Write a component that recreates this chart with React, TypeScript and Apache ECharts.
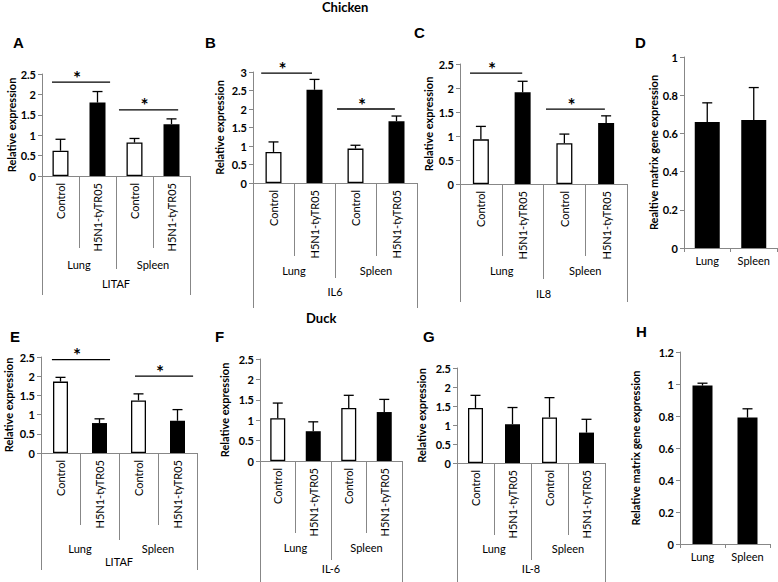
import React, { useEffect, useRef } from 'react';
import * as echarts from 'echarts';

const FONT = 'Lato, "Liberation Sans", sans-serif';
const GRAY = '#878787';

// categories
const treatments = ['Control', 'H5N1-tyTR05', 'Control', 'H5N1-tyTR05'];
const tissues = ['Lung', 'Spleen'];

// Chicken
const chickenLitafMean = [0.62, 1.8, 0.82, 1.27];
const chickenLitafErr = [0.28, 0.27, 0.1, 0.13];
const chickenIl6Mean = [0.84, 2.52, 0.93, 1.67];
const chickenIl6Err = [0.27, 0.28, 0.09, 0.14];
const chickenIl8Mean = [0.93, 1.91, 0.85, 1.27];
const chickenIl8Err = [0.27, 0.23, 0.19, 0.15];
const chickenMatrixMean = [0.66, 0.67];
const chickenMatrixErr = [0.1, 0.17];

// Duck
const duckLitafMean = [1.86, 0.78, 1.37, 0.84];
const duckLitafErr = [0.11, 0.11, 0.17, 0.29];
const duckIl6Mean = [1.05, 0.73, 1.3, 1.2];
const duckIl6Err = [0.37, 0.23, 0.31, 0.31];
const duckIl8Mean = [1.45, 1.02, 1.2, 0.8];
const duckIl8Err = [0.33, 0.44, 0.52, 0.35];
const duckMatrixMean = [0.99, 0.79];
const duckMatrixErr = [0.015, 0.055];

// significance brackets: [from category, to category, level]
const chickenLitafSig = [[-0.23, 1.34, 2.3], [1.58, 3.18, 1.62]];
const chickenIl6Sig = [[-0.3, 0.94, 2.97], [1.55, 2.96, 2.0]];
const chickenIl8Sig = [[-0.26, 0.99, 2.31], [1.56, 2.97, 1.56]];
const duckLitafSig = [[-0.22, 1.27, 2.43], [1.91, 3.4, 2.0]];

type Panel = {
  rect: number[];
  max: number;
  step: number;
  yName: string;
  nameGap: number;
  mean: number[];
  err: number[];
  bw: number;
  gene?: string;
  ticks?: number[];
  margins?: number[];
  sig?: number[][];
};

const panels: Panel[] = [
  { rect: [42, 74, 148, 102], max: 2.5, step: 0.5, yName: 'Relative expression', nameGap: 24, mean: chickenLitafMean, err: chickenLitafErr, bw: 16, gene: 'LITAF', ticks: [72, 93, 119], margins: [7, 83, 102], sig: chickenLitafSig },
  { rect: [253, 72, 164, 111], max: 3, step: 0.5, yName: 'Relative expression', nameGap: 28, mean: chickenIl6Mean, err: chickenIl6Err, bw: 16, gene: 'IL6', ticks: [73, 95, 125], margins: [7, 82, 103], sig: chickenIl6Sig },
  { rect: [460, 64, 167, 120], max: 2.5, step: 0.5, yName: 'Relative expression', nameGap: 26, mean: chickenIl8Mean, err: chickenIl8Err, bw: 16, gene: 'IL8', ticks: [72, 95, 118], margins: [7, 81, 104], sig: chickenIl8Sig },
  { rect: [684, 57, 93, 191], max: 1, step: 0.2, yName: 'Realtive matrix gene expression', nameGap: 15, mean: chickenMatrixMean, err: chickenMatrixErr, bw: 25 },
  { rect: [41, 357, 156, 96], max: 2.5, step: 0.5, yName: 'Relative expression', nameGap: 27, mean: duckLitafMean, err: duckLitafErr, bw: 15, gene: 'LITAF', ticks: [72, 87, 117], margins: [7, 90, 103], sig: duckLitafSig },
  { rect: [260, 359, 142, 102], max: 2.5, step: 0.5, yName: 'Relative expression', nameGap: 30, mean: duckIl6Mean, err: duckIl6Err, bw: 15, gene: 'IL-6', ticks: [72, 99, 125], margins: [7, 81, 102] },
  { rect: [457, 368, 148, 95], max: 2.5, step: 0.5, yName: 'Relative expression', nameGap: 30, mean: duckIl8Mean, err: duckIl8Err, bw: 15, gene: 'IL-8', ticks: [72, 97, 125], margins: [7, 80, 100] },
  { rect: [680, 352, 90, 192], max: 1.2, step: 0.2, yName: 'Relative matrix gene expression', nameGap: 39, mean: duckMatrixMean, err: duckMatrixErr, bw: 20 },
];

const labelsText = [
  { text: 'Chicken', left: 322, top: 0, size: 13 },
  { text: 'Duck', left: 306, top: 311, size: 13 },
  { text: 'A', left: 13, top: 35, size: 15 },
  { text: 'B', left: 205, top: 35, size: 15 },
  { text: 'C', left: 414, top: 25, size: 15 },
  { text: 'D', left: 635, top: 35, size: 15 },
  { text: 'E', left: 10, top: 329, size: 15 },
  { text: 'F', left: 215, top: 329, size: 15 },
  { text: 'G', left: 423, top: 329, size: 15 },
  { text: 'H', left: 636, top: 324, size: 15 },
];

const errorRender = (params: any, api: any) => {
  const x = api.value(0);
  const m = api.value(1);
  const e = api.value(2);
  const b = api.coord([x, m]);
  const t = api.coord([x, m + e]);
  const style = { stroke: '#000', lineWidth: 1.3 };
  return {
    type: 'group',
    children: [
      { type: 'line', shape: { x1: b[0], y1: b[1], x2: t[0], y2: t[1] }, style },
      { type: 'line', shape: { x1: t[0] - 5, y1: t[1], x2: t[0] + 5, y2: t[1] }, style },
    ],
  };
};

const sigRender = (params: any, api: any) => {
  const y = api.value(1);
  const a = api.value(2);
  const b = api.value(3);
  const c = api.coord([0, y]);
  const w = api.size([1, 0])[0];
  const x1 = c[0] + a * w;
  const x2 = c[0] + b * w;
  return {
    type: 'group',
    children: [
      { type: 'line', shape: { x1, y1: c[1], x2, y2: c[1] }, style: { stroke: '#000', lineWidth: 1.3 } },
      {
        type: 'text',
        x: (x1 + x2) / 2 - 4,
        y: c[1] - 5,
        style: { text: '*', fill: '#000', stroke: 'none', fontSize: 19, fontWeight: 'bold', fontFamily: FONT, align: 'center', verticalAlign: 'middle' },
      },
    ],
  };
};

function buildOption() {
  const grid: any[] = [];
  const xAxis: any[] = [];
  const yAxis: any[] = [];
  const series: any[] = [];
  const lineStyle = { color: GRAY, width: 1 };

  panels.forEach((p) => {
    const rect = { left: p.rect[0], top: p.rect[1], width: p.rect[2], height: p.rect[3] };
    const four = p.mean.length === 4;
    const gi = grid.length;
    grid.push({ ...rect });
    xAxis.push({
      gridIndex: gi,
      type: 'category',
      data: four ? treatments : tissues,
      axisLine: { show: true, lineStyle },
      axisTick: { show: true, interval: 0, length: four ? p.ticks![0] : 4, lineStyle },
      axisLabel: four
        ? { rotate: 90, interval: 0, margin: p.margins![0], fontSize: 11, color: '#000', fontFamily: FONT }
        : { interval: 0, margin: 7, fontSize: 11, color: '#000', fontFamily: FONT },
    });
    yAxis.push({
      gridIndex: gi,
      type: 'value',
      min: 0,
      max: p.max,
      interval: p.step,
      name: p.yName,
      nameLocation: 'middle',
      nameGap: p.nameGap,
      nameTextStyle: { fontSize: 11, fontWeight: 'bold', color: '#000', fontFamily: FONT },
      axisLine: { show: true, lineStyle },
      axisTick: { show: true, length: 4, lineStyle },
      axisLabel: { fontSize: 11, fontWeight: 'bold', color: '#000', fontFamily: FONT, margin: 6 },
      splitLine: { show: false },
    });
    series.push({
      type: 'bar',
      xAxisIndex: gi,
      yAxisIndex: gi,
      barWidth: p.bw,
      data: p.mean.map((v, i) => ({
        value: v,
        itemStyle: four && i % 2 === 0
          ? { color: '#fff', borderColor: '#000', borderWidth: 1.3 }
          : { color: '#000' },
      })),
    });
    series.push({
      type: 'custom',
      xAxisIndex: gi,
      yAxisIndex: gi,
      renderItem: errorRender,
      itemStyle: { color: '#000' },
      encode: { x: 0, y: 1 },
      data: p.mean.map((v, i) => [i, v, p.err[i]]),
      z: 5,
    });
    if (p.sig) {
      series.push({
        type: 'custom',
        xAxisIndex: gi,
        yAxisIndex: gi,
        renderItem: sigRender,
        itemStyle: { color: '#000' },
        encode: { x: 0, y: 1 },
        data: p.sig.map((s) => [0, s[2], s[0], s[1]]),
        z: 6,
      });
    }
    if (four) {
      const levels = [
        { data: tissues, tick: p.ticks![1], margin: p.margins![1] },
        { data: [p.gene], tick: p.ticks![2], margin: p.margins![2] },
      ];
      levels.forEach((lv) => {
        const g = grid.length;
        grid.push({ ...rect });
        xAxis.push({
          gridIndex: g,
          type: 'category',
          data: lv.data,
          axisLine: { show: true, lineStyle },
          axisTick: { show: true, interval: 0, length: lv.tick, lineStyle },
          axisLabel: { interval: 0, margin: lv.margin, fontSize: 11, color: '#000', fontFamily: FONT },
        });
        yAxis.push({ gridIndex: g, type: 'value', show: false, min: 0, max: 1 });
      });
    }
  });

  const title = labelsText.map((t) => ({
    text: t.text,
    left: t.left,
    top: t.top,
    padding: 0,
    textStyle: { fontSize: t.size, fontWeight: 'bold', color: '#000', fontFamily: t.size > 13 ? '"Liberation Sans", Arial, sans-serif' : FONT },
  }));

  return { animation: false, backgroundColor: '#fff', color: ['#000'], title, grid, xAxis, yAxis, series };
}

export default function App() {
  const ref = useRef<HTMLDivElement>(null);
  useEffect(() => {
    const chart = echarts.init(ref.current!, null, { renderer: 'svg' });
    chart.setOption(buildOption() as any);
    return () => chart.dispose();
  }, []);
  return (
    <div
      ref={ref}
      style={{ position: 'absolute', left: 0, top: 0, width: 778, height: 582, background: '#fff' }}
    />
  );
}
